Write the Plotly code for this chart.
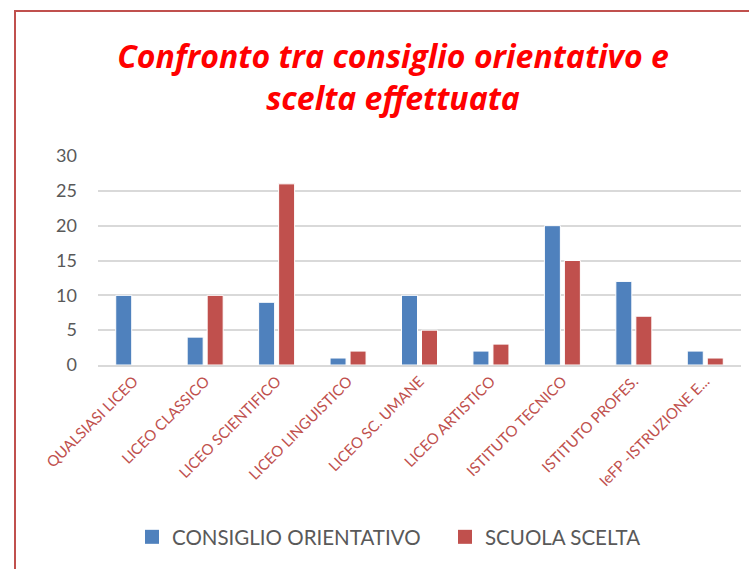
import plotly.graph_objects as go

categories = ["QUALSIASI LICEO", "LICEO CLASSICO", "LICEO SCIENTIFICO", "LICEO LINGUISTICO",
              "LICEO SC. UMANE", "LICEO ARTISTICO", "ISTITUTO TECNICO", "ISTITUTO PROFES.",
              "IeFP -ISTRUZIONE E..."]
consiglio = [10, 4, 9, 1, 10, 2, 20, 12, 2]
scelta = [0, 10, 26, 2, 5, 3, 15, 7, 1]
y_ticks = [0, 5, 10, 15, 20, 25, 30]
series_names = ["CONSIGLIO ORIENTATIVO", "SCUOLA SCELTA"]
series_colors = ["#4f81bd", "#c0504d"]

W, H = 749, 569
L, R, T, B = 98, 8, 156, 204
pw = W - L - R
ph = H - T - B

fig = go.Figure()
for vals, name, col in zip([consiglio, scelta], series_names, series_colors):
    fig.add_trace(go.Bar(x=categories, y=vals, name=name, showlegend=False,
                         marker=dict(color=col, line=dict(color="#ffffff", width=1))))
for name, col in zip(series_names, series_colors):
    fig.add_trace(go.Scatter(x=[None], y=[None], mode="markers", name=name,
                             marker=dict(symbol="square", size=14, color=col)))

def px_x(p):
    return (p - L) / pw

def px_y(p):
    return (H - B - p) / ph

fig.add_shape(type="rect", xref="paper", yref="paper",
              x0=px_x(15), x1=px_x(770), y0=px_y(590), y1=px_y(11),
              line=dict(color="#c0504d", width=2), fillcolor="rgba(0,0,0,0)", layer="below")

fig.update_layout(
    width=W, height=H,
    margin=dict(l=L, r=R, t=T, b=B, autoexpand=False),
    paper_bgcolor="white", plot_bgcolor="white",
    barmode="group", bargap=0.44, bargroupgap=0.2,
    title=dict(text="<b><i>Confronto tra consiglio orientativo e<br>scelta effettuata</i></b>",
               font=dict(family="Open Sans, Lato, sans-serif", size=32, color="#ff0000"),
               x=393 / W, xanchor="center", xref="container",
               y=1 - 68 / H, yanchor="middle", yref="container"),
    font=dict(family="Lato, Open Sans, sans-serif", color="#595959"),
    xaxis=dict(type="category", tickangle=-45, tickfont=dict(size=15, color="#c0504d"),
               automargin=False, showline=True, linecolor="#d9d9d9", linewidth=1.5, ticks=""),
    yaxis=dict(range=[0, 30], tickvals=y_ticks, tickfont=dict(size=18, color="#595959"),
               showgrid=True, gridcolor="#d9d9d9", gridwidth=1.5, zeroline=False,
               ticks="", ticklabelstandoff=20, automargin=False),
    legend=dict(orientation="h", x=px_x(445), xanchor="center", y=px_y(537), yanchor="middle",
                font=dict(size=20.5, color="#595959"), entrywidth=268, entrywidthmode="pixels",
                itemwidth=30),
)

fig.write_html("out.html", config={"displayModeBar": False},
               post_script="document.body.style.margin='0';")
